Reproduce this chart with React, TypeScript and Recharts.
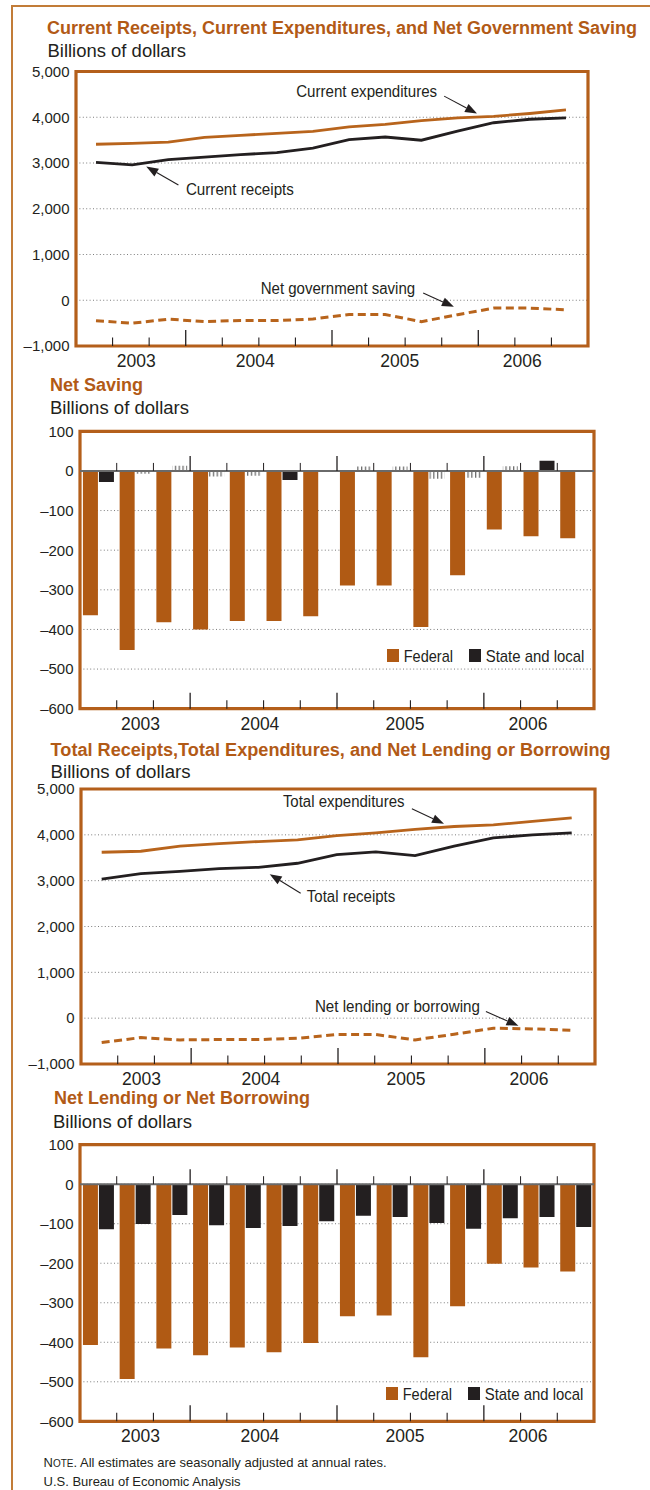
import React from 'react';
import {
  LineChart, BarChart, Line, Bar, Cell, XAxis, YAxis, CartesianGrid,
  ReferenceLine, ReferenceArea, Legend,
} from 'recharts';

const FONT = '"Liberation Sans", Arial, Helvetica, sans-serif';
const LINE_ORANGE = '#b8641c';
const BAR_ORANGE = '#b05a14';
const DARK = '#231f20';
const FRAME = '#b45f1b';
const TITLE = '#b25a16';

// ---- data (billions of dollars, seasonally adjusted annual rates) ----
const quarters14 = ['2003Q2', '2003Q3', '2003Q4', '2004Q1', '2004Q2', '2004Q3', '2004Q4',
  '2005Q1', '2005Q2', '2005Q3', '2005Q4', '2006Q1', '2006Q2', '2006Q3'];
const quarters13 = ['2003Q3', '2003Q4', '2004Q1', '2004Q2', '2004Q3', '2004Q4',
  '2005Q1', '2005Q2', '2005Q3', '2005Q4', '2006Q1', '2006Q2', '2006Q3'];

const currentExpenditures = [3410, 3430, 3455, 3560, 3605, 3648, 3692, 3790, 3842, 3926, 3985, 4020, 4082, 4160];
const currentReceipts = [3015, 2960, 3072, 3128, 3183, 3227, 3326, 3513, 3568, 3498, 3695, 3880, 3956, 3985];
const netGovSaving = [-447, -502, -414, -465, -443, -443, -410, -312, -312, -468, -315, -172, -172, -209];

const federalSaving = [-364, -452, -382, -400, -379, -379, -367, -289, -289, -394, -263, -148, -165, -170];
const stateSaving = [-28, -7, 13, -14, -12, -23, -1, 11, 11, -20, -17, 12, 26, -1];

const totalExpenditures = [3620, 3642, 3752, 3810, 3854, 3890, 3985, 4044, 4117, 4182, 4219, 4292, 4372];
const totalReceipts = [3036, 3153, 3204, 3263, 3292, 3380, 3569, 3628, 3547, 3752, 3934, 4000, 4044];
const netLending = [-533, -423, -474, -467, -467, -438, -358, -358, -474, -350, -219, -234, -263];

const federalLending = [-407, -493, -416, -433, -413, -425, -402, -334, -332, -438, -309, -201, -211, -221];
const stateLending = [-114, -101, -78, -104, -111, -106, -94, -80, -83, -98, -113, -86, -83, -108];

const yearLabels = ['2003', '2004', '2005', '2006'];
const yearPos = [1.65, 4.9, 8.85, 12.2];
const quarterBounds = [1, 2, 3, 4, 5, 6, 7, 8, 9, 10, 11, 12, 13];
const majorBounds = [3, 7, 11];
const levelTicks = [-1000, 0, 1000, 2000, 3000, 4000, 5000];
const balanceTicks = [-600, -500, -400, -300, -200, -100, 0, 100];

const savingNotes = [
  { text: 'Current expenditures', from: [9.63, 4462], to: [10.54, 4081], dx: -7, dy: 0.5, anchor: 'end', w: 141 },
  { text: 'Current receipts', from: [2.28, 2519], to: [1.39, 2922], dx: 7.5, dy: 10, anchor: 'start', w: 108 },
  { text: 'Net government saving', from: [9.05, 158], to: [9.9, -143], dx: -8, dy: 1, anchor: 'end', w: 154.5 },
];
const lendingNotes = [
  { text: 'Total expenditures', from: [7.92, 4567], to: [8.74, 4240], dx: -7.4, dy: -1.5, anchor: 'end', w: 121.6 },
  { text: 'Total receipts', from: [5.08, 2727], to: [4.29, 3142], dx: 6.2, dy: 8.4, anchor: 'start', w: 88.4 },
  { text: 'Net lending or borrowing', from: [9.81, 144], to: [10.64, -168], dx: -6, dy: 0, anchor: 'end', w: 165 },
];

const savingRows = quarters14.map((q, i) => ({
  q, i, exp: currentExpenditures[i], rec: currentReceipts[i], net: netGovSaving[i],
}));
const savingBars = quarters14.map((q, i) => ({ q, i, fed: federalSaving[i], sl: stateSaving[i] }));
const lendingRows = quarters13.map((q, i) => ({
  q, i, exp: totalExpenditures[i], rec: totalReceipts[i], net: netLending[i],
}));
const lendingBars = quarters14.map((q, i) => ({ q, i, fed: federalLending[i], sl: stateLending[i] }));

const fmt = (v: number) => (v < 0 ? '\u2013' : '') + Math.abs(v).toLocaleString('en-US');
const yearFmt = (v: number) => yearLabels[yearPos.indexOf(v)] ?? '';

const yTick = { fontSize: 15, fill: DARK, fontFamily: FONT };
const xTick = { fontSize: 17.5, fill: DARK, fontFamily: FONT };

function TickUp(props: any) {
  const { x1, y1, len, w } = props;
  return <line x1={x1} y1={y1} x2={x1} y2={y1 - len} stroke={DARK} strokeWidth={w} />;
}

function Arrow(props: any) {
  const { x1, y1, x2, y2, label, dx, dy, anchor, tw } = props;
  const a = Math.atan2(y2 - y1, x2 - x1);
  const hl = 12, hw = 4.5;
  const bx = x2 - hl * Math.cos(a), by = y2 - hl * Math.sin(a);
  const px = -Math.sin(a) * hw, py = Math.cos(a) * hw;
  return (
    <g>
      <line x1={x1} y1={y1} x2={bx} y2={by} stroke={DARK} strokeWidth={1.1} />
      <polygon points={`${x2},${y2} ${bx + px},${by + py} ${bx - px},${by - py}`} fill={DARK} />
      <text x={x1 + dx} y={y1 + dy} textAnchor={anchor} fontSize={16} fontFamily={FONT} fill={DARK}
        textLength={tw} lengthAdjust="spacingAndGlyphs">{label}</text>
    </g>
  );
}

function boundTicks(yMin: number, withZero: boolean) {
  const out: React.ReactNode[] = [];
  quarterBounds.forEach((b) => {
    const major = majorBounds.includes(b);
    out.push(
      <ReferenceLine key={`b${b}`} segment={[{ x: b, y: yMin }, { x: b, y: yMin }]}
        shape={<TickUp len={major ? 16 : 8.5} w={major ? 1.3 : 1.1} />} />,
    );
    if (withZero) {
      out.push(
        <ReferenceLine key={`z${b}`} segment={[{ x: b, y: 0 }, { x: b, y: 0 }]}
          shape={<TickUp len={major ? 15 : 8} w={major ? 1.3 : 1} />} />,
      );
    }
  });
  return out;
}

function LegendBox(props: any) {
  const items = props.payload || [];
  const offs = [0, 82];
  const widths = [49.3, 98.6];
  return (
    <svg width={210} height={16} style={{ display: 'block', overflow: 'visible' }}>
      {items.map((e: any, k: number) => (
        <g key={k}>
          <rect x={offs[k]} y={0} width={12} height={13} fill={e.color} />
          <text x={offs[k] + 16.7} y={13} fontSize={17} fontFamily={FONT} fill={DARK}
            textLength={widths[k]} lengthAdjust="spacingAndGlyphs">{e.value}</text>
        </g>
      ))}
    </svg>
  );
}

function LevelPanel(props: any) {
  const { rows, notes, dom, margin, axisH, h } = props;
  return (
    <LineChart width={650} height={h} data={rows} margin={margin}>
      <CartesianGrid vertical={false} stroke="#7d7d7d" strokeDasharray="1 2.4" />
      <XAxis type="number" dataKey="i" domain={[0, 14]} allowDataOverflow ticks={yearPos} interval={0}
        tickFormatter={yearFmt} tick={xTick} tickLine={false} axisLine={false}
        tickSize={0} tickMargin={8.5} height={axisH} />
      <XAxis xAxisId="pts" type="number" dataKey="i" domain={dom} allowDataOverflow hide height={0} />
      <YAxis domain={[-1000, 5000]} allowDataOverflow ticks={levelTicks} interval={0} tickFormatter={fmt}
        tick={yTick} tickLine={false} axisLine={false} tickSize={0} tickMargin={6.5} width={60} />
      <ReferenceArea x1={0} x2={14} y1={-1000} y2={5000} fill="none" stroke={FRAME} strokeWidth={3.2} />
      {boundTicks(-1000, false)}
      <Line xAxisId="pts" dataKey="exp" stroke={LINE_ORANGE} strokeWidth={2.8} dot={false} isAnimationActive={false} />
      <Line xAxisId="pts" dataKey="rec" stroke={DARK} strokeWidth={2.8} dot={false} isAnimationActive={false} />
      <Line xAxisId="pts" dataKey="net" stroke={LINE_ORANGE} strokeWidth={3} strokeDasharray="8 4.5"
        dot={false} isAnimationActive={false} />
      {notes.map((n: any) => (
        <ReferenceLine key={n.text} xAxisId="pts"
          segment={[{ x: n.from[0], y: n.from[1] }, { x: n.to[0], y: n.to[1] }]}
          shape={<Arrow label={n.text} dx={n.dx} dy={n.dy} anchor={n.anchor} tw={n.w} />} />
      ))}
    </LineChart>
  );
}

function BalancePanel(props: any) {
  const { rows, margin, axisH, h, legendTop, legendLeft } = props;
  return (
    <BarChart width={650} height={h} data={rows} margin={margin} barCategoryGap="8%" barGap={1}>
      <defs>
        <pattern id={`hatch${legendTop}`} patternUnits="userSpaceOnUse" width={3.8} height={10}>
          <rect x={0} y={0} width={1.3} height={10} fill="#6f6f6f" />
        </pattern>
      </defs>
      <CartesianGrid vertical={false} stroke="#7d7d7d" strokeDasharray="1 2.4" />
      <XAxis type="number" dataKey="i" domain={[0, 14]} allowDataOverflow ticks={yearPos} interval={0}
        tickFormatter={yearFmt} tick={xTick} tickLine={false} axisLine={false}
        tickSize={0} tickMargin={8.5} height={axisH} />
      <XAxis xAxisId="cat" dataKey="q" type="category" hide height={0} />
      <YAxis domain={[-600, 100]} allowDataOverflow ticks={balanceTicks} interval={0} tickFormatter={fmt}
        tick={yTick} tickLine={false} axisLine={false} tickSize={0} tickMargin={6.5} width={60} />
      <Legend layout="horizontal" align="center" verticalAlign="middle" content={<LegendBox />}
        wrapperStyle={{ top: legendTop, left: legendLeft, width: 210 }} />
      <Bar xAxisId="cat" dataKey="fed" name="Federal" fill={BAR_ORANGE} isAnimationActive={false} />
      <Bar xAxisId="cat" dataKey="sl" name="State and local" fill={DARK} isAnimationActive={false}>
        {rows.map((r: any, k: number) => (
          <Cell key={k} fill={Math.abs(r.sl) <= 20 ? `url(#hatch${legendTop})` : DARK} />
        ))}
      </Bar>
      <ReferenceLine y={0} stroke="#6a6a6a" strokeWidth={2} />
      {boundTicks(-600, true)}
      <ReferenceArea x1={0} x2={14} y1={-600} y2={100} fill="none" stroke={FRAME} strokeWidth={3.2} />
    </BarChart>
  );
}

const titleProps = { fontFamily: FONT, fontWeight: 700, fontSize: 18, fill: TITLE, lengthAdjust: 'spacingAndGlyphs' as const };
const subProps = { fontFamily: FONT, fontSize: 17.5, fill: DARK, lengthAdjust: 'spacingAndGlyphs' as const };

export default function App() {
  return (
    <div style={{ position: 'absolute', left: 0, top: 0, width: 650, height: 1490, background: '#fff', overflow: 'hidden' }}>
      <div style={{ position: 'absolute', left: 11, top: 5, width: 700, height: 1600,
        borderLeft: '2px solid #c27c38', borderTop: '2px solid #c27c38' }} />
      <div style={{ position: 'absolute', left: 0, top: 0 }}>
        <LevelPanel rows={savingRows} notes={savingNotes} dom={[-0.553, 13.609]} h={376}
          margin={{ top: 71.5, right: 62, bottom: 0, left: 16 }} axisH={30} />
      </div>
      <div style={{ position: 'absolute', left: 0, top: 370 }}>
        <BalancePanel rows={savingBars} h={366} margin={{ top: 61.3, right: 56, bottom: 0, left: 20 }}
          axisH={27.3} legendTop={279} legendLeft={387} />
      </div>
      <div style={{ position: 'absolute', left: 0, top: 730 }}>
        <LevelPanel rows={lendingRows} notes={lendingNotes} dom={[-0.528, 12.595]} h={364}
          margin={{ top: 59, right: 55, bottom: 0, left: 21 }} axisH={30} />
      </div>
      <div style={{ position: 'absolute', left: 0, top: 1085 }}>
        <BalancePanel rows={lendingBars} h={368} margin={{ top: 59.7, right: 56, bottom: 0, left: 20 }}
          axisH={31.7} legendTop={301.7} legendLeft={386} />
      </div>
      <svg width={650} height={1490} style={{ position: 'absolute', left: 0, top: 0, pointerEvents: 'none' }}>
        <text x={47} y={34} textLength={590} {...titleProps}>Current Receipts, Current Expenditures, and Net Government Saving</text>
        <text x={47.5} y={56.7} textLength={138.5} {...subProps}>Billions of dollars</text>
        <text x={50} y={391} textLength={93} {...titleProps}>Net Saving</text>
        <text x={50} y={414} textLength={139} {...subProps}>Billions of dollars</text>
        <text x={50.6} y={756} textLength={560} {...titleProps}>Total Receipts,Total Expenditures, and Net Lending or Borrowing</text>
        <text x={50.6} y={777.5} textLength={140} {...subProps}>Billions of dollars</text>
        <text x={54} y={1104} textLength={256} {...titleProps}>Net Lending or Net Borrowing</text>
        <text x={53} y={1127.8} textLength={139} {...subProps}>Billions of dollars</text>
        <text x={43.6} y={1467} textLength={343} fontFamily={FONT} fontSize={13} fill={DARK} lengthAdjust="spacingAndGlyphs">
          <tspan>N</tspan><tspan fontSize={10}>OTE</tspan><tspan>. All estimates are seasonally adjusted at annual rates.</tspan>
        </text>
        <text x={43.6} y={1485.5} textLength={197} fontFamily={FONT} fontSize={13} fill={DARK} lengthAdjust="spacingAndGlyphs">U.S. Bureau of Economic Analysis</text>
      </svg>
    </div>
  );
}
